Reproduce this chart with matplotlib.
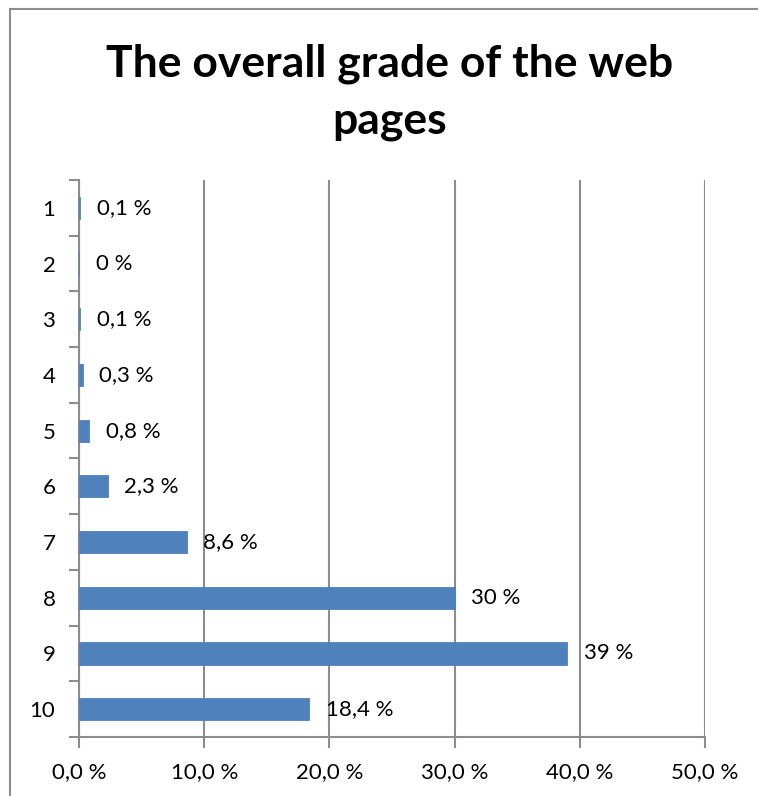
import matplotlib.pyplot as plt
from matplotlib.patches import Rectangle

# date
grades = ['1', '2', '3', '4', '5', '6', '7', '8', '9', '10']
shares = [0.1, 0, 0.1, 0.3, 0.8, 2.3, 8.6, 30, 39, 18.4]
value_labels = ['0,1 %', '0 %', '0,1 %', '0,3 %', '0,8 %', '2,3 %', '8,6 %', '30 %', '39 %', '18,4 %']
x_ticks = [0, 10, 20, 30, 40, 50]
x_tick_labels = ['0,0 %', '10,0 %', '20,0 %', '30,0 %', '40,0 %', '50,0 %']

plt.rcParams['font.family'] = ['Lato', 'DejaVu Sans']

fig = plt.figure(figsize=(7.58, 7.96), dpi=100)
ax = fig.add_axes([79 / 758, 59 / 796, (705 - 79) / 758, (737 - 180) / 796])

# chenarul graficului (dreapta si jos ies din imagine)
fig.patches.append(Rectangle((10 / 758, -0.05), 1.05, (796 - 9) / 796 + 0.05,
                             transform=fig.transFigure, fill=False,
                             edgecolor='#8c8c8c', linewidth=1.5))

pos = list(range(len(grades)))
ax.barh(pos, shares, height=0.4, color='#4f81bd', edgecolor='#4f81bd',
        linewidth=0.6, zorder=3)

for p, v, lab in zip(pos, shares, value_labels):
    ax.annotate(lab, (v, p), xytext=(12, 0), textcoords='offset points',
                va='center', ha='left', fontsize=16)

ax.set_xlim(0, 50)
ax.set_ylim(len(grades) - 0.5, -0.5)
ax.set_xticks(x_ticks)
ax.set_xticklabels(x_tick_labels, fontsize=16)
ax.set_yticks(pos)
ax.set_yticklabels(grades, fontsize=16)
ax.set_yticks([p + 0.5 for p in range(-1, len(grades))], minor=True)

ax.grid(axis='x', color='#8c8c8c', linewidth=1.5, zorder=0)
for s in ['top', 'right']:
    ax.spines[s].set_visible(False)
for s in ['left', 'bottom']:
    ax.spines[s].set_color('#8c8c8c')
    ax.spines[s].set_linewidth(1.5)

ax.tick_params(axis='y', which='major', length=0, pad=17)
ax.tick_params(axis='y', which='minor', length=7, width=1.5, color='#8c8c8c')
ax.tick_params(axis='x', length=8, width=1.5, color='#8c8c8c', pad=10)

fig.text(390 / 758, 1 - 92 / 796, 'The overall grade of the web\npages',
         ha='center', va='center', fontsize=32, fontweight='bold',
         linespacing=1.5)

fig.savefig('out.png', dpi=100)
